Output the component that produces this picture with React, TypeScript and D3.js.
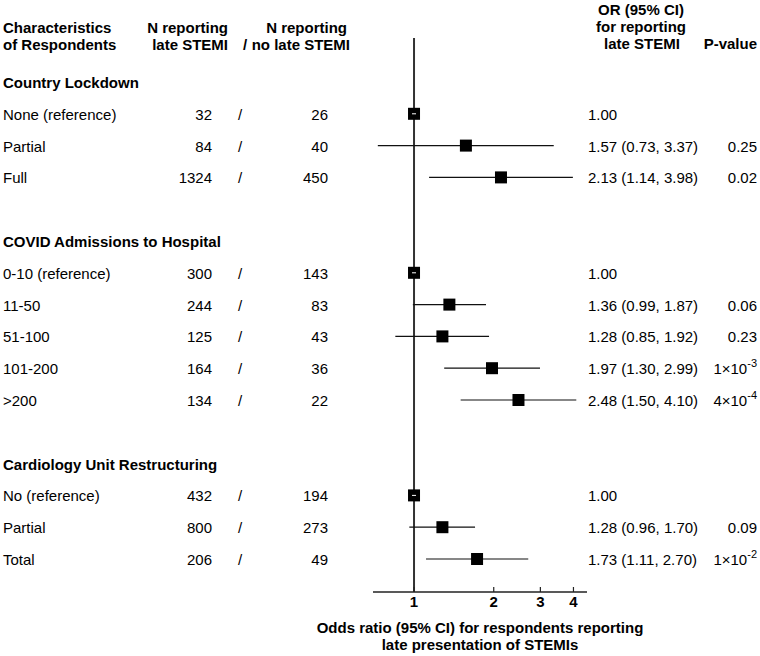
import * as d3 from "d3";
import React from "react";

// groups and rows of the forest plot
const groupNames = ["Country Lockdown", "COVID Admissions to Hospital", "Cardiology Unit Restructuring"];
const rowLabels = ["None (reference)", "Partial", "Full", "0-10 (reference)", "11-50", "51-100", "101-200", ">200", "No (reference)", "Partial", "Total"];
const rowGroup = [0, 0, 0, 1, 1, 1, 1, 1, 2, 2, 2];
const nLate = [32, 84, 1324, 300, 244, 125, 164, 134, 432, 800, 206];
const nNoLate = [26, 40, 450, 143, 83, 43, 36, 22, 194, 273, 49];
const oddsRatio = [1, 1.57, 2.13, 1, 1.36, 1.28, 1.97, 2.48, 1, 1.28, 1.73];
const ciLow = [1, 0.73, 1.14, 1, 0.99, 0.85, 1.30, 1.50, 1, 0.96, 1.11];
const ciHigh = [1, 3.37, 3.98, 1, 1.87, 1.92, 2.99, 4.10, 1, 1.70, 2.70];
const isReference = [true, false, false, true, false, false, false, false, true, false, false];
// p-values: [mantissa text, exponent] ; exponent "" means plain text
const pValues: [string, string][] = [["", ""], ["0.25", ""], ["0.02", ""], ["", ""], ["0.06", ""], ["0.23", ""], ["1×10", "-3"], ["4×10", "-4"], ["", ""], ["0.09", ""], ["1×10", "-2"]];
const xTicks = [1, 2, 3, 4];

const W = 760;
const H = 656;
const FONT = "'Liberation Sans', Arial, sans-serif";

const App: React.FC = () => {
    const x = d3.scaleLog().domain([0.7, 4.5]).range([373, 587]);
    const y = d3.scaleLinear().domain([0, 15]).range([82, 559]);
    const axisY = 592;

    // assign slots: header per group, then its rows, then a blank slot
    const headerSlots: number[] = [];
    const rowSlots: number[] = [];
    let slot = 0;
    groupNames.forEach((_, g) => {
        headerSlots.push(slot);
        slot++;
        rowLabels.forEach((_, i) => {
            if (rowGroup[i] === g) {
                rowSlots.push(slot);
                slot++;
            }
        });
        slot++;
    });

    const fmt = d3.format(".2f");
    const sq = 12;

    return (
        <svg width={W} height={H} style={{ position: "absolute", left: 0, top: 0, background: "#fff" }} fontFamily={FONT} fontSize={15}>
            {/* column headers */}
            <g fontWeight="bold">
                <text x={3} y={33}>Characteristics</text>
                <text x={3} y={50}>of Respondents</text>
                <text x={228} y={33} textAnchor="end">N reporting</text>
                <text x={228} y={50} textAnchor="end">late STEMI</text>
                <text x={347} y={33} textAnchor="end">N reporting</text>
                <text x={245} y={50} textAnchor="middle">/</text>
                <text x={350} y={50} textAnchor="end">no late STEMI</text>
                <text x={641} y={15} textAnchor="middle">OR (95% CI)</text>
                <text x={641} y={32} textAnchor="middle">for reporting</text>
                <text x={642} y={49} textAnchor="middle">late STEMI</text>
                <text x={757} y={49} textAnchor="end">P-value</text>
            </g>

            {groupNames.map((g, i) => (
                <text key={g} x={3} y={y(headerSlots[i]) + 6} fontWeight="bold">{g}</text>
            ))}

            {/* null line */}
            <line x1={x(1)} x2={x(1)} y1={38} y2={axisY} stroke="#333" strokeWidth={2} />

            {rowLabels.map((label, i) => {
                const cy = y(rowSlots[i]);
                const p = pValues[i];
                return (
                    <g key={i}>
                        <text x={3} y={cy + 6}>{label}</text>
                        <text x={212} y={cy + 6} textAnchor="end">{nLate[i]}</text>
                        <text x={240} y={cy + 6} textAnchor="middle">/</text>
                        <text x={328} y={cy + 6} textAnchor="end">{nNoLate[i]}</text>
                        {!isReference[i] && (
                            <line x1={x(ciLow[i])} x2={x(ciHigh[i])} y1={cy} y2={cy} stroke="#111" strokeWidth={1.2} />
                        )}
                        <rect x={x(oddsRatio[i]) - sq / 2} y={cy - sq / 2} width={sq} height={sq} fill="#000" />
                        {isReference[i] && (
                            <line x1={x(1) - 2} x2={x(1) + 2} y1={cy} y2={cy} stroke="#fff" strokeWidth={1} />
                        )}
                        <text x={588} y={cy + 6}>
                            {isReference[i]
                                ? fmt(oddsRatio[i])
                                : `${fmt(oddsRatio[i])} (${fmt(ciLow[i])}, ${fmt(ciHigh[i])})`}
                        </text>
                        {p[0] && (
                            <text x={757} y={cy + 6} textAnchor="end">
                                {p[0]}
                                {p[1] && <tspan fontSize={11} dy={-7}>{p[1]}</tspan>}
                            </text>
                        )}
                    </g>
                );
            })}

            {/* x axis */}
            <line x1={x.range()[0]} x2={x.range()[1]} y1={axisY} y2={axisY} stroke="#222" strokeWidth={1.5} />
            {xTicks.map(t => (
                <g key={t}>
                    <line x1={x(t)} x2={x(t)} y1={axisY} y2={axisY - 5} stroke="#222" strokeWidth={1.2} />
                    <text x={x(t)} y={607} textAnchor="middle" fontWeight="bold">{t}</text>
                </g>
            ))}
            <text x={480} y={633} textAnchor="middle" fontWeight="bold">Odds ratio (95% CI) for respondents reporting</text>
            <text x={480} y={650} textAnchor="middle" fontWeight="bold">late presentation of STEMIs</text>
        </svg>
    );
};

export default App;
